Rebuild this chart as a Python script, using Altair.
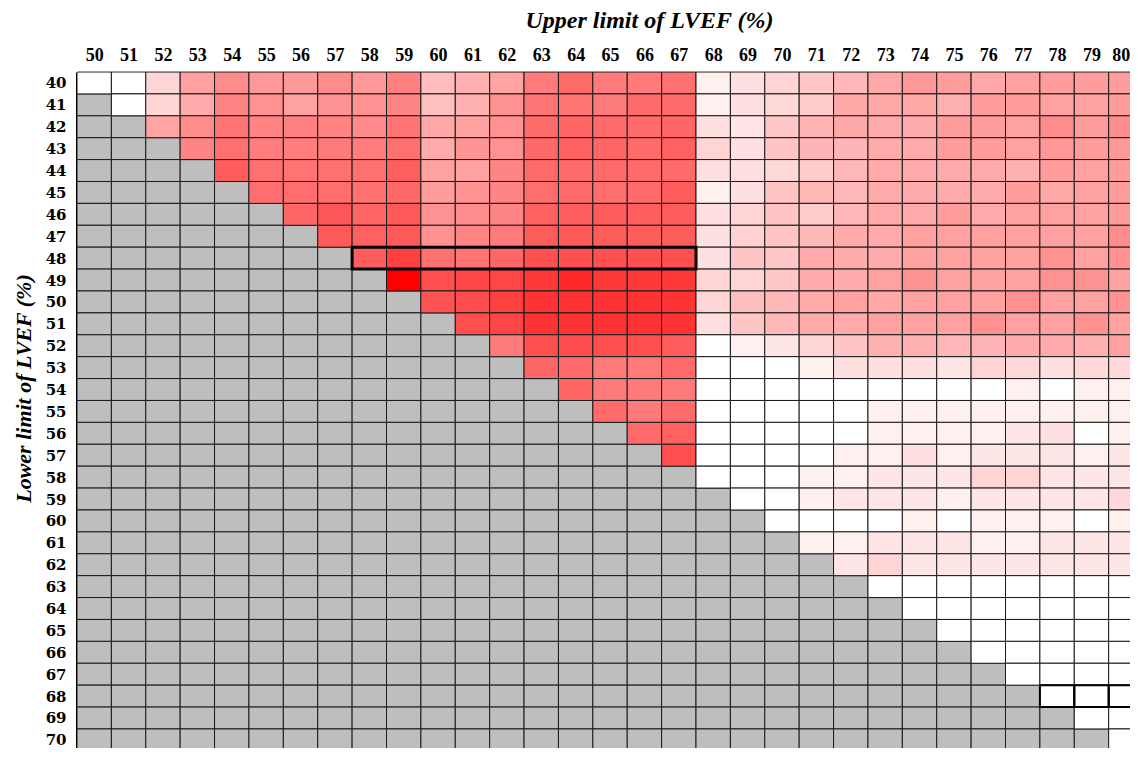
import altair as alt
import pandas as pd

N = None

upper_limits = [50, 51, 52, 53, 54, 55, 56, 57, 58, 59, 60, 61, 62, 63, 64, 65,
                66, 67, 68, 69, 70, 71, 72, 73, 74, 75, 76, 77, 78, 79, 80]
lower_limits = [40, 41, 42, 43, 44, 45, 46, 47, 48, 49, 50, 51, 52, 53, 54, 55,
                56, 57, 58, 59, 60, 61, 62, 63, 64, 65, 66, 67, 68, 69, 70]

# relative intensity per cell (None = not applicable, grey)
row_40 = [0, 0, .16, .37, .45, .40, .40, .45, .40, .50, .26, .31, .36, .52, .58, .52,
          .52, .56, .06, .12, .17, .22, .28, .34, .40, .39, .34, .37, .39, .39, .39]
row_41 = [N, 0, .16, .33, .48, .43, .37, .43, .43, .48, .25, .31, .43, .54, .55, .52,
          .58, .58, .06, .12, .15, .20, .34, .34, .34, .31, .39, .39, .37, .37, .39]
row_42 = [N, N, .36, .45, .54, .48, .50, .48, .46, .54, .34, .37, .43, .58, .60, .58,
          .58, .60, .12, .10, .22, .29, .34, .33, .33, .39, .39, .37, .45, .39, .45]
row_43 = [N, N, N, .48, .56, .51, .51, .52, .51, .56, .33, .42, .43, .59, .62, .60,
          .58, .62, .17, .12, .23, .29, .29, .33, .33, .39, .39, .37, .40, .39, .40]
row_44 = [N, N, N, N, .64, .56, .55, .56, .56, .63, .37, .37, .48, .58, .58, .58,
          .58, .58, .12, .12, .15, .20, .28, .33, .33, .33, .33, .31, .39, .37, .39]
row_45 = [N, N, N, N, N, .57, .57, .57, .56, .59, .39, .43, .48, .57, .58, .57,
          .58, .64, .06, .12, .23, .28, .28, .33, .33, .33, .33, .39, .34, .37, .39]
row_46 = [N, N, N, N, N, N, .60, .66, .60, .65, .43, .45, .48, .62, .63, .64,
          .63, .64, .12, .17, .23, .20, .28, .33, .33, .39, .33, .37, .37, .37, .39]
row_47 = [N, N, N, N, N, N, N, .65, .62, .65, .43, .48, .52, .64, .65, .64,
          .64, .64, .12, .18, .23, .28, .33, .33, .37, .37, .37, .37, .37, .37, .45]
row_48 = [N, N, N, N, N, N, N, N, .64, .75, .56, .55, .60, .69, .69, .69,
          .69, .69, .12, .23, .22, .33, .33, .33, .37, .37, .37, .37, .43, .37, .43]
row_49 = [N, N, N, N, N, N, N, N, N, 1.0, .69, .73, .73, .78, .84, .78,
          .78, .78, .17, .17, .22, .33, .33, .37, .43, .37, .37, .37, .43, .43, .37]
row_50 = [N, N, N, N, N, N, N, N, N, N, .67, .70, .75, .80, .80, .80,
          .80, .80, .17, .26, .28, .33, .37, .34, .37, .37, .37, .43, .37, .37, .43]
row_51 = [N, N, N, N, N, N, N, N, N, N, N, .69, .73, .80, .80, .80,
          .80, .80, .12, .23, .28, .33, .33, .37, .37, .37, .43, .37, .37, .43, .37]
row_52 = [N, N, N, N, N, N, N, N, N, N, N, N, .52, .69, .70, .69,
          .69, .64, 0, .06, .10, .17, .23, .31, .31, .28, .29, .33, .33, .31, .37]
row_53 = [N, N, N, N, N, N, N, N, N, N, N, N, N, .60, .58, .52,
          .52, .58, 0, 0, 0, .06, .12, .12, .12, .10, .17, .15, .12, .15, .15]
row_54 = [N, N, N, N, N, N, N, N, N, N, N, N, N, N, .60, .52,
          .52, .52, 0, 0, 0, 0, 0, 0, 0, 0, 0, .06, 0, .06, .06]
row_55 = [N, N, N, N, N, N, N, N, N, N, N, N, N, N, N, .58,
          .52, .58, 0, 0, 0, 0, 0, .06, .06, .06, .06, .06, .06, .06, .06]
row_56 = [N, N, N, N, N, N, N, N, N, N, N, N, N, N, N, N,
          .58, .62, 0, 0, 0, 0, 0, .06, .06, .06, .06, .10, .12, 0, .06]
row_57 = [N, N, N, N, N, N, N, N, N, N, N, N, N, N, N, N,
          N, .69, 0, 0, 0, 0, .06, .06, .12, .06, .10, .10, .10, .06, .10]
row_58 = [N, N, N, N, N, N, N, N, N, N, N, N, N, N, N, N,
          N, N, 0, 0, 0, .06, .06, .10, .10, .10, .17, .17, .10, .10, .10]
row_59 = [N, N, N, N, N, N, N, N, N, N, N, N, N, N, N, N,
          N, N, N, 0, 0, .06, .10, .10, .10, .06, .10, .10, .10, .10, .15]
row_60 = [N, N, N, N, N, N, N, N, N, N, N, N, N, N, N, N,
          N, N, N, N, 0, 0, 0, 0, .06, 0, .06, .06, .06, 0, .06]
row_61 = [N, N, N, N, N, N, N, N, N, N, N, N, N, N, N, N,
          N, N, N, N, N, .06, .06, .10, .10, .10, .06, .06, .10, .10, .10]
row_62 = [N, N, N, N, N, N, N, N, N, N, N, N, N, N, N, N,
          N, N, N, N, N, N, .10, .17, .10, .10, .10, .10, .10, .10, .10]
row_63 = [N, N, N, N, N, N, N, N, N, N, N, N, N, N, N, N,
          N, N, N, N, N, N, N, 0, 0, 0, 0, 0, 0, 0, 0]
row_64 = [N, N, N, N, N, N, N, N, N, N, N, N, N, N, N, N,
          N, N, N, N, N, N, N, N, 0, 0, 0, 0, 0, 0, 0]
row_65 = [N, N, N, N, N, N, N, N, N, N, N, N, N, N, N, N,
          N, N, N, N, N, N, N, N, N, 0, 0, 0, 0, 0, 0]
row_66 = [N, N, N, N, N, N, N, N, N, N, N, N, N, N, N, N,
          N, N, N, N, N, N, N, N, N, N, 0, 0, 0, 0, 0]
row_67 = [N, N, N, N, N, N, N, N, N, N, N, N, N, N, N, N,
          N, N, N, N, N, N, N, N, N, N, N, 0, 0, 0, 0]
row_68 = [N, N, N, N, N, N, N, N, N, N, N, N, N, N, N, N,
          N, N, N, N, N, N, N, N, N, N, N, N, 0, 0, 0]
row_69 = [N, N, N, N, N, N, N, N, N, N, N, N, N, N, N, N,
          N, N, N, N, N, N, N, N, N, N, N, N, N, 0, 0]
row_70 = [N, N, N, N, N, N, N, N, N, N, N, N, N, N, N, N,
          N, N, N, N, N, N, N, N, N, N, N, N, N, N, 0]

all_rows = [row_40, row_41, row_42, row_43, row_44, row_45, row_46, row_47,
            row_48, row_49, row_50, row_51, row_52, row_53, row_54, row_55,
            row_56, row_57, row_58, row_59, row_60, row_61, row_62, row_63,
            row_64, row_65, row_66, row_67, row_68, row_69, row_70]

# highlighted boxes
hl_lower = [48, 68, 68, 68]
hl_start = [58, 78, 79, 80]
hl_end = [67, 78, 79, 80]
hl_width = [3, 2, 2, 2]

records = []
for lo, vals in zip(lower_limits, all_rows):
    for up, v in zip(upper_limits, vals):
        records.append({"lower": lo, "upper": up, "v": v})
df = pd.DataFrame(records)
hl = pd.DataFrame({"lower": hl_lower, "start": hl_start, "end": hl_end, "w": hl_width})

# the visible window cuts the last column / row (as in the reference)
xscale = alt.Scale(domain=[49.5, 80.12], nice=False, zero=False)
yscale = alt.Scale(domain=[39.5, 70.37], nice=False, zero=False, reverse=True)

xaxis = alt.Axis(orient="top", values=upper_limits, format="d", grid=False, ticks=False,
                 labelOverlap=False, labelFont="Liberation Serif", labelFontWeight="bold",
                 labelFontSize=18, labelColor="black", labelPadding=8,
                 labelOffset={"condition": {"test": "datum.value >= 80", "value": -5},
                              "value": 0},
                 domainColor="#333333", domainWidth=2,
                 title="Upper limit of LVEF (%)", titleFont="Liberation Serif",
                 titleFontSize=24, titleFontStyle="italic", titleFontWeight="bold",
                 titleColor="black", titleX=572, titleY=-45, titleAlign="center",
                 titleBaseline="alphabetic", titleAngle=0)
yaxis = alt.Axis(orient="left", values=lower_limits, format="d", grid=False, ticks=False,
                 labelOverlap=False, labelFont="DejaVu Serif", labelFontWeight="bold",
                 labelFontSize=15, labelColor="black", labelPadding=11,
                 domainColor="black", domainWidth=3,
                 title="Lower limit of LVEF (%)", titleFont="Liberation Serif",
                 titleFontSize=22, titleFontStyle="italic", titleFontWeight="bold",
                 titleColor="black", titleX=-47, titleY=316, titleAlign="center",
                 titleBaseline="alphabetic", titleAngle=-90)

base = alt.Chart(df).transform_calculate(
    x0="datum.upper - 0.5", x1="datum.upper + 0.5",
    y0="datum.lower - 0.5", y1="datum.lower + 0.5")

enc = dict(
    x=alt.X("x0:Q", scale=xscale, axis=xaxis),
    x2="x1:Q",
    y=alt.Y("y0:Q", scale=yscale, axis=yaxis),
    y2="y1:Q",
)

gray = base.transform_filter("!isValid(datum.v)").mark_rect(
    fill="#bebebe", stroke="#1a1a1a", strokeWidth=1, clip=True).encode(**enc)

colored = base.transform_filter("isValid(datum.v)").mark_rect(
    stroke="#1a1a1a", strokeWidth=1, clip=True).encode(
    color=alt.Color("v:Q", scale=alt.Scale(domain=[0, 1], range=["#ffffff", "#ff0000"],
                                           interpolate="rgb"), legend=None),
    **enc)

boxes = alt.Chart(hl).transform_calculate(
    x0="datum.start - 0.5", x1="datum.end + 0.5",
    y0="datum.lower - 0.5", y1="datum.lower + 0.5").mark_rect(
    filled=False, stroke="black", clip=True).encode(
    strokeWidth=alt.StrokeWidth("w:Q", scale=None), **enc)

chart = alt.layer(gray, colored, boxes).properties(
    width=1053, height=676,
    autosize=alt.AutoSizeParams(type="none"),
    padding={"left": 69, "top": 64, "right": 0, "bottom": 0},
    background="white",
).configure_view(stroke=None)

chart.save("out.html", embed_options={"renderer": "svg", "actions": False})
